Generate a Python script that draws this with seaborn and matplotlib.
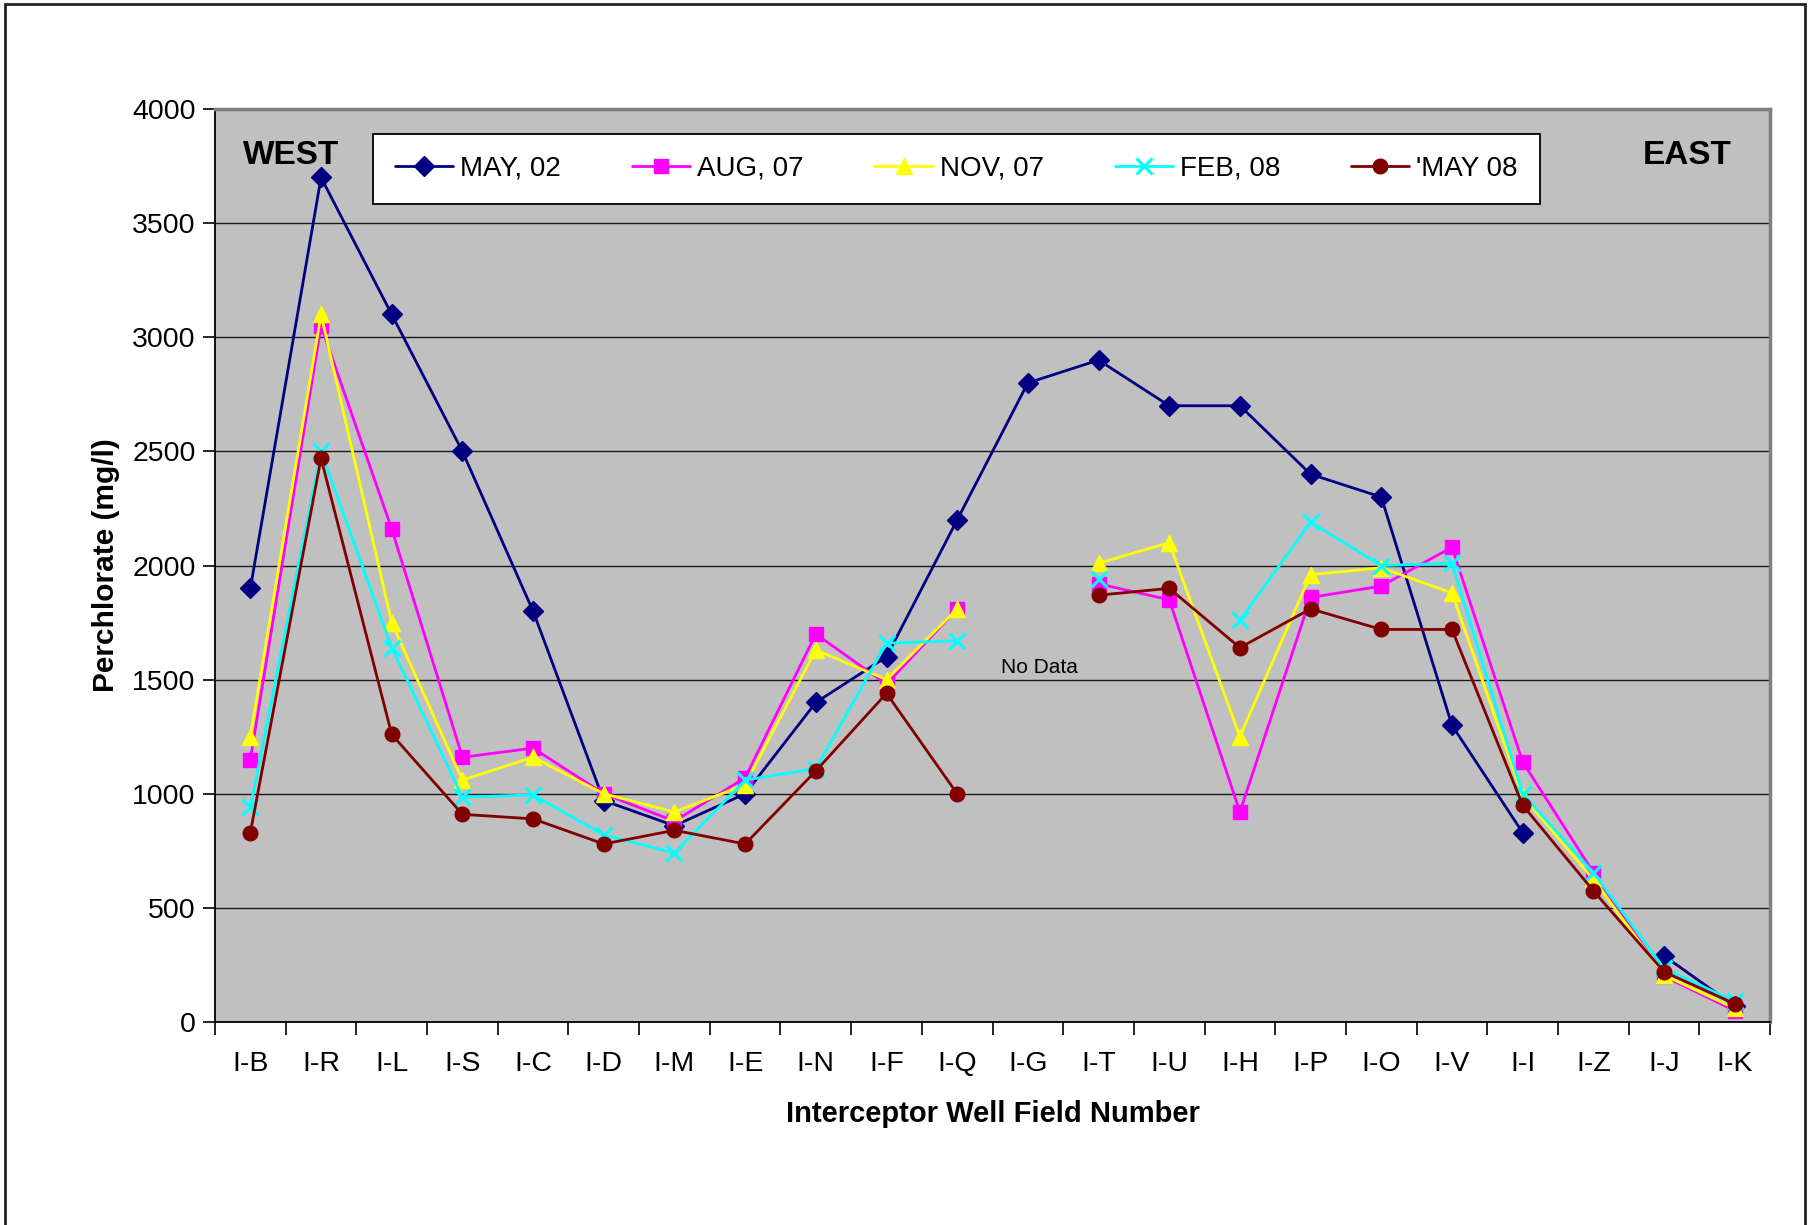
import numpy as np
import pandas as pd
import matplotlib
matplotlib.use("Agg")
import matplotlib.pyplot as plt
from matplotlib.lines import Line2D
from matplotlib.patches import Rectangle
import seaborn as sns

nan = np.nan

# well fields, west to east
wells = ["I-B", "I-R", "I-L", "I-S", "I-C", "I-D", "I-M", "I-E", "I-N", "I-F", "I-Q",
         "I-G", "I-T", "I-U", "I-H", "I-P", "I-O", "I-V", "I-I", "I-Z", "I-J", "I-K"]

# perchlorate (mg/l) per sampling round, NaN = no sample
may_02 = [1900, 3700, 3100, 2500, 1800, 970, 860, 1000, 1400, 1600, 2200,
          2800, 2900, 2700, 2700, 2400, 2300, 1300, 830, nan, 290, 70]
aug_07 = [1150, 3050, 2160, 1160, 1200, 1000, 880, 1070, 1700, 1480, 1810,
          nan, 1920, 1850, 920, 1860, 1910, 2080, 1140, 655, 200, 50]
nov_07 = [1250, 3100, 1750, 1060, 1160, 1000, 920, 1040, 1630, 1500, 1810,
          nan, 2010, 2100, 1250, 1960, 1990, 1880, 990, 625, 205, 60]
feb_08 = [940, 2500, 1640, 985, 995, 820, 740, 1060, 1110, 1660, 1670,
          nan, 1940, nan, 1760, 2190, 2000, 2010, 1000, 655, 235, 90]
may_08 = [830, 2470, 1260, 910, 890, 780, 840, 780, 1100, 1440, 1000,
          nan, 1870, 1900, 1640, 1810, 1720, 1720, 950, 575, 220, 80]

series_names = ["MAY, 02", "AUG, 07", "NOV, 07", "FEB, 08", "'MAY 08"]
series_vals = [may_02, aug_07, nov_07, feb_08, may_08]
colors = ["#000080", "#FF00FF", "#FFFF00", "#00FFFF", "#800000"]
markers = ["D", "s", "^", "x", "o"]
msizes = [10, 10, 11, 11, 10.5]


def to_frame(vals):
    # give every unbroken run its own id so gaps are not bridged
    rows = []
    seg = 0
    prev_nan = False
    for i, v in enumerate(vals):
        if np.isnan(v):
            prev_nan = True
            continue
        if prev_nan:
            seg += 1
            prev_nan = False
        rows.append({"pos": i, "val": v, "seg": seg})
    return pd.DataFrame(rows)


sns.set_theme(style="white")
plt.rcParams['font.family'] = ['Liberation Sans', 'DejaVu Sans']
plt.rcParams['text.color'] = 'black'
plt.rcParams['axes.labelcolor'] = 'black'
plt.rcParams['xtick.color'] = 'black'
plt.rcParams['ytick.color'] = 'black'

fig = plt.figure(figsize=(18.13, 12.25), dpi=100)
ax = fig.add_axes([0.1186, 0.1657, 0.8577, 0.7453])
ax.set_facecolor("#C0C0C0")

for name, vals, c, m, s in zip(series_names, series_vals, colors, markers, msizes):
    d = to_frame(vals)
    n_before = len(ax.lines)
    sns.lineplot(data=d, x="pos", y="val", units="seg", estimator=None, sort=False,
                 legend=False, color=c, marker=m, linewidth=2.0, ax=ax)
    # excel style markers: solid, edge in the line colour
    for line in ax.lines[n_before:]:
        line.set_markeredgecolor(c)
        line.set_markerfacecolor(c)
        line.set_markersize(s)
        line.set_markeredgewidth(2.2 if m == "x" else 1.0)
        line.set_clip_on(False)

ax.set_xlim(-0.5, len(wells) - 0.5)
ax.set_ylim(0, 4000)
ax.set_yticks(np.arange(0, 4001, 500))
ax.set_xticks(range(len(wells)))
ax.set_xticklabels(wells)
ax.set_xticks(np.arange(-0.5, len(wells), 1.0), minor=True)

ax.grid(axis="y", color="#1a1a1a", linewidth=1.0)
ax.grid(axis="x", visible=False)
ax.set_axisbelow(True)

ax.tick_params(axis="y", which="major", direction="out", length=9, width=1.2,
               color="black", labelsize=20.5, pad=5, left=True)
ax.tick_params(axis="x", which="major", length=0, labelsize=20.5, pad=21)
ax.tick_params(axis="x", which="minor", direction="out", length=9, width=1.2,
               color="black", bottom=True)

for side in ["left", "bottom"]:
    ax.spines[side].set_color("black")
    ax.spines[side].set_linewidth(1.3)
for side in ["top", "right"]:
    ax.spines[side].set_color("#808080")
    ax.spines[side].set_linewidth(2.5)

ax.set_xlabel("Interceptor Well Field Number", fontsize=21, fontweight="bold")
ax.set_ylabel("Perchlorate (mg/l)", fontsize=21.5, fontweight="bold")
ax.xaxis.set_label_coords(0.5, -0.085)
ax.yaxis.set_label_coords(-0.061, 0.5)

ax.text(0.018, 0.9495, "WEST", transform=ax.transAxes, fontsize=24,
        fontweight="bold", ha="left", va="center")
ax.text(0.975, 0.9495, "EAST", transform=ax.transAxes, fontsize=24,
        fontweight="bold", ha="right", va="center")
ax.text(10.62, 1554, "No Data", fontsize=15, ha="left", va="center")

handles = [Line2D([], [], color=c, marker=m, markersize=s, markerfacecolor=c,
                  markeredgecolor=c, markeredgewidth=(2.2 if m == "x" else 1.0),
                  linewidth=2.0)
           for c, m, s in zip(colors, markers, msizes)]
leg = ax.legend(handles, series_names, loc="center", bbox_to_anchor=(0.4768, 0.9345),
                ncol=5, fontsize=20, frameon=True, fancybox=False, shadow=False,
                borderpad=0.8, handlelength=2.1, handletextpad=0.25,
                columnspacing=2.55)
leg.get_frame().set_facecolor("white")
leg.get_frame().set_edgecolor("black")
leg.get_frame().set_linewidth(1.3)
leg.get_frame().set_alpha(1)

# outer chart border (bottom edge falls below the picture)
fig.patches.append(Rectangle((5 / 1813, -0.05), 1800 / 1813, 1.05 - 4 / 1225,
                             transform=fig.transFigure, fill=False,
                             edgecolor="#222222", linewidth=2))

fig.savefig("out.png", dpi=100, facecolor="white")
plt.close(fig)
